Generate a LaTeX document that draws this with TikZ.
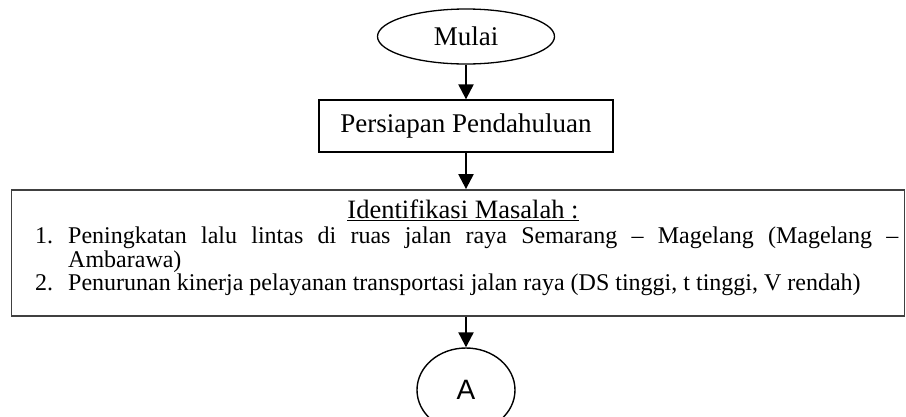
\documentclass[tikz,border=0pt]{standalone}
\usepackage{fontspec}
\setmainfont{Liberation Serif}
\newfontfamily\arialfont{Liberation Sans}
\usetikzlibrary{shapes.geometric,arrows.meta}

\tikzstyle{terminal} = [shape=ellipse,draw,line width=1.3pt,minimum width=177pt,minimum height=55pt,inner sep=0pt,font=\fontsize{27}{27}\selectfont]
\tikzstyle{process} = [shape=rectangle,draw,line width=1.3pt,minimum width=294pt,minimum height=52pt,font=\fontsize{27}{27}\selectfont]
\tikzstyle{problembox} = [shape=rectangle,draw=black!75,line width=1.8pt,minimum width=893pt,minimum height=126pt]
\tikzstyle{connector} = [shape=ellipse,draw,line width=1.4pt,minimum width=98pt,minimum height=84pt,inner sep=0pt,font=\fontsize{28}{28}\arialfont]
\tikzstyle{arrowdecorate} = [-{Triangle[length=15pt,width=15pt]},line width=2.2pt]
\tikzstyle{heading} = [font=\fontsize{26.5}{26.5}\selectfont,inner sep=0pt,anchor=base]
\tikzstyle{textline} = [font=\fontsize{24}{24}\selectfont,inner sep=0pt,anchor=base west]

\begin{document}
\begin{tikzpicture}[x=1pt,y=-1pt]
  \clip (0,0) rectangle (906,416);
  %nodes
  \node[terminal] (mulai) at (466,36.5) {Mulai};
  \node[process] (persiapan) at (466,126) {Persiapan Pendahuluan};
  \node[problembox] (masalah) at (458,253) {};
  \node[connector] (a) at (466,390) {A};

  %isi kotak masalah
  \node[heading] (judul) at (463,218) {\underline{Identifikasi Masalah :}};
  \node[textline] (poin1) at (68,243) {\makebox[830pt][s]{Peningkatan lalu lintas di ruas jalan raya Semarang – Magelang (Magelang –}};
  \foreach \nodename/\x/\y/\isi in {
    no1/35/243/1., no2/35/290/2., ambarawa/68/267/Ambarawa),
    poin2/68/290/{Penurunan kinerja pelayanan transportasi jalan raya (DS tinggi, t tinggi, V rendah)}}
  {
    \node[textline] (\nodename) at (\x,\y) {\isi};
  };

  %edges
  \draw[arrowdecorate] (mulai.south) -- (persiapan.north);
  \draw[arrowdecorate] (persiapan.south) -- (persiapan.south |- masalah.north);
  \draw[arrowdecorate] (masalah.south -| a.north) -- (a.north);
\end{tikzpicture}
\end{document}
